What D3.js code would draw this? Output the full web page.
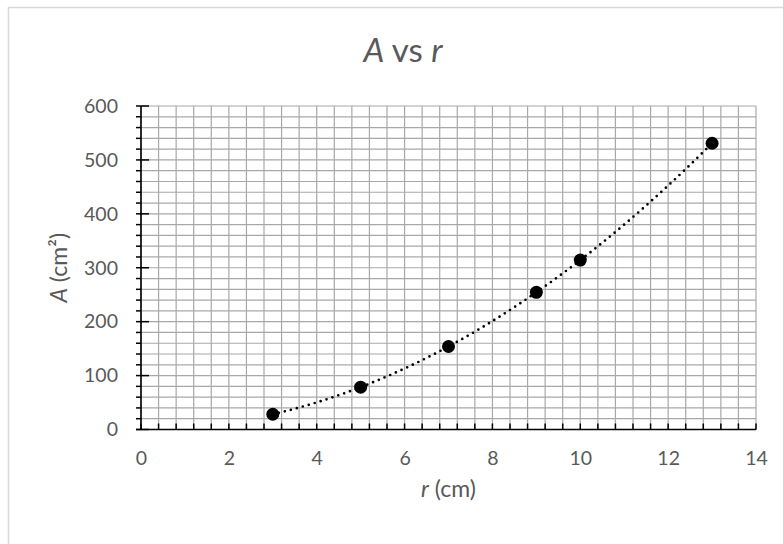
<!DOCTYPE html>
<html>
<head>
<meta charset="utf-8">
<script src="https://cdn.jsdelivr.net/npm/d3@7"></script>
<style>
  html, body { margin: 0; padding: 0; background: #fff; }
  svg { display: block; }
  text { font-family: Lato, "Open Sans", sans-serif; fill: #595959; }
</style>
</head>
<body>
<svg id="chart" width="783" height="544"></svg>
<script>
// ---- data ----
const radius = [3, 5, 7, 9, 10, 13];          // r (cm)
const area   = [28.3, 78.5, 153.9, 254.5, 314.2, 530.9]; // A (cm²)
const xTickValues = [0, 2, 4, 6, 8, 10, 12, 14];
const yTickValues = [0, 100, 200, 300, 400, 500, 600];
const xMinorStep = 0.4;
const yMinorStep = 20;
const titleParts = [{t: "A", i: true}, {t: " vs ", i: false}, {t: "r", i: true}];

// ---- layout ----
const svg = d3.select("#chart");
const plot = {left: 141, right: 756, top: 106, bottom: 429.5};

const x = d3.scaleLinear().domain([0, 14]).range([plot.left, plot.right]);
const y = d3.scaleLinear().domain([0, 600]).range([plot.bottom, plot.top]);

// chart area border
svg.append("rect").attr("x", 8.5).attr("y", 7.5).attr("width", 800).attr("height", 600)
  .attr("fill", "#fff").attr("stroke", "#d9d9d9").attr("stroke-width", 1.5);

// gridlines
const xMinor = d3.range(0, 14 + 1e-9, xMinorStep);
const yMinor = d3.range(0, 600 + 1e-9, yMinorStep);
const grid = svg.append("g").attr("stroke", "#a8a8a8").attr("stroke-width", 1.2);
grid.selectAll("line.v").data(xMinor).join("line").attr("class", "v")
  .attr("x1", d => x(d)).attr("x2", d => x(d)).attr("y1", plot.top).attr("y2", plot.bottom);
grid.selectAll("line.h").data(yMinor).join("line").attr("class", "h")
  .attr("y1", d => y(d)).attr("y2", d => y(d)).attr("x1", plot.left).attr("x2", plot.right);

// axes labels via d3 axis
const xAxis = d3.axisBottom(x).tickValues(xTickValues).tickSize(0).tickPadding(22).tickFormat(d3.format("d"));
const gx = svg.append("g").attr("transform", `translate(0,${plot.bottom})`).call(xAxis);
gx.select(".domain").remove();
gx.selectAll("text").style("font-size", "19.5px").attr("fill", "#595959");

const yAxis = d3.axisLeft(y).tickValues(yTickValues).tickSize(0).tickPadding(23).tickFormat(d3.format("d"));
const gy = svg.append("g").attr("transform", `translate(${plot.left},0)`).call(yAxis);
gy.select(".domain").remove();
gy.selectAll("text").style("font-size", "19.5px").attr("fill", "#595959");

// tick marks
const tk = svg.append("g").attr("stroke", "#000").attr("stroke-width", 1.5);
tk.selectAll("line.xt").data(xMinor).join("line").attr("class", "xt")
  .attr("x1", d => x(d)).attr("x2", d => x(d)).attr("y1", plot.bottom).attr("y2", plot.bottom - 6);
tk.selectAll("line.yt").data(yMinor).join("line").attr("class", "yt")
  .attr("y1", d => y(d)).attr("y2", d => y(d))
  .attr("x1", plot.left - 5)
  .attr("x2", d => yTickValues.includes(Math.round(d)) ? plot.left + 8 : plot.left);

// axis lines
svg.append("line").attr("x1", plot.left).attr("x2", plot.left).attr("y1", plot.top).attr("y2", plot.bottom)
  .attr("stroke", "#000").attr("stroke-width", 1.6);
svg.append("line").attr("x1", plot.left - 5).attr("x2", plot.right).attr("y1", plot.bottom).attr("y2", plot.bottom)
  .attr("stroke", "#000").attr("stroke-width", 1.6);

// polynomial (order 2) least-squares trendline computed from the data
function quadFit(xs, ys) {
  const n = xs.length;
  let s = [0,0,0,0,0], t = [0,0,0];
  for (let i = 0; i < n; i++) {
    const xi = xs[i], yi = ys[i];
    for (let k = 0; k < 5; k++) s[k] += Math.pow(xi, k);
    for (let k = 0; k < 3; k++) t[k] += yi * Math.pow(xi, k);
  }
  const M = [[s[0], s[1], s[2], t[0]], [s[1], s[2], s[3], t[1]], [s[2], s[3], s[4], t[2]]];
  for (let c = 0; c < 3; c++) {
    for (let r = c + 1; r < 3; r++) {
      const f = M[r][c] / M[c][c];
      for (let k = c; k < 4; k++) M[r][k] -= f * M[c][k];
    }
  }
  const b = [0,0,0];
  for (let r = 2; r >= 0; r--) {
    let v = M[r][3];
    for (let k = r + 1; k < 3; k++) v -= M[r][k] * b[k];
    b[r] = v / M[r][r];
  }
  return xv => b[0] + b[1] * xv + b[2] * xv * xv;
}
const fit = quadFit(radius, area);
const xmin = d3.min(radius), xmax = d3.max(radius);
const trendX = d3.range(0, 101).map(i => xmin + (xmax - xmin) * i / 100);
svg.append("path")
  .attr("d", d3.line().x(d => x(d)).y(d => y(fit(d)))(trendX))
  .attr("fill", "none").attr("stroke", "#000").attr("stroke-width", 2.7)
  .attr("stroke-linecap", "round").attr("stroke-dasharray", "0 6.2");

// data points
svg.selectAll("circle.pt").data(radius.map((r, i) => [r, area[i]])).join("circle")
  .attr("class", "pt").attr("cx", d => x(d[0])).attr("cy", d => y(d[1])).attr("r", 6.5).attr("fill", "#000");

// title
const title = svg.append("text").attr("x", 403).attr("y", 62).attr("text-anchor", "middle")
  .style("font-size", "33px");
titleParts.forEach(p => title.append("tspan").text(p.t).style("font-style", p.i ? "italic" : "normal"));

// x axis title
const xt = svg.append("text").attr("x", (plot.left + plot.right) / 2).attr("y", 497)
  .attr("text-anchor", "middle").style("font-size", "23px");
xt.append("tspan").text("r").style("font-style", "italic");
xt.append("tspan").text(" (cm)");

// y axis title
const yt = svg.append("text").attr("transform", `translate(67,${(plot.top + plot.bottom) / 2}) rotate(-90)`)
  .attr("text-anchor", "middle").style("font-size", "23px");
yt.append("tspan").text("A").style("font-style", "italic");
yt.append("tspan").text(" (cm²)");
</script>
</body>
</html>
